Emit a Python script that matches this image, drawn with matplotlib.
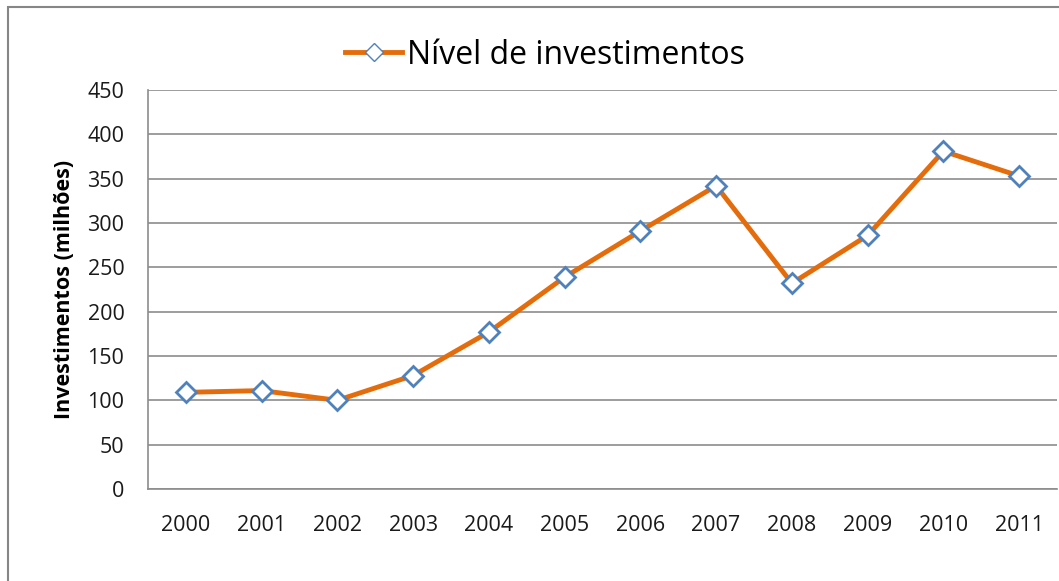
import numpy as np
import matplotlib.pyplot as plt
from matplotlib.patches import Rectangle

anos = ['2000', '2001', '2002', '2003', '2004', '2005', '2006', '2007', '2008', '2009', '2010', '2011']
investimentos = [109, 111, 100, 128, 177, 239, 291, 342, 232, 286, 381, 353]

plt.rcParams['font.family'] = ['Open Sans', 'DejaVu Sans']

fig = plt.figure(figsize=(10.59, 5.81), dpi=100)
ax = fig.add_axes([148 / 1059, 1 - 489 / 581, (1057 - 148) / 1059, (489 - 90) / 581])

# borda externa do grafico
fig.patches.append(Rectangle((8 / 1059, -0.1), 1.2, 1 - 7 / 581 + 0.1, transform=fig.transFigure,
                             fill=False, edgecolor='#868686', linewidth=1.5, clip_on=False))

x = np.arange(len(anos))
ax.plot(x, investimentos, color='#E46C0A', linewidth=3.5, marker='D', markersize=10,
        markerfacecolor='white', markeredgecolor='#4F81BD', markeredgewidth=2,
        label='Nível de investimentos', zorder=3)

ax.set_xlim(-0.5, len(anos) - 0.5)
ax.set_ylim(0, 450)
ax.set_yticks(range(0, 451, 50))
ax.set_xticks(x)
ax.set_xticklabels(anos)
ax.tick_params(axis='both', length=0, labelsize=15.5, colors='#1a1a1a')
ax.tick_params(axis='x', pad=19)
ax.tick_params(axis='y', pad=17)
ax.grid(axis='y', color='#8c8c8c', linewidth=1.2)
ax.set_axisbelow(True)
for s in ['top', 'right']:
    ax.spines[s].set_visible(False)
for s in ['left', 'bottom']:
    ax.spines[s].set_color('#8c8c8c')
    ax.spines[s].set_linewidth(1.2)

ax.set_ylabel('Investimentos (milhões)', fontsize=15.5, fontweight='bold', labelpad=9)

leg = fig.legend(loc='center', bbox_to_anchor=(545 / 1059, 1 - 55 / 581), frameon=False,
                 fontsize=23, handlelength=1.8, handletextpad=0.15, markerscale=0.9)
for h in leg.legend_handles:
    h.set_markeredgewidth(1)

fig.savefig('out.png', dpi=100)
